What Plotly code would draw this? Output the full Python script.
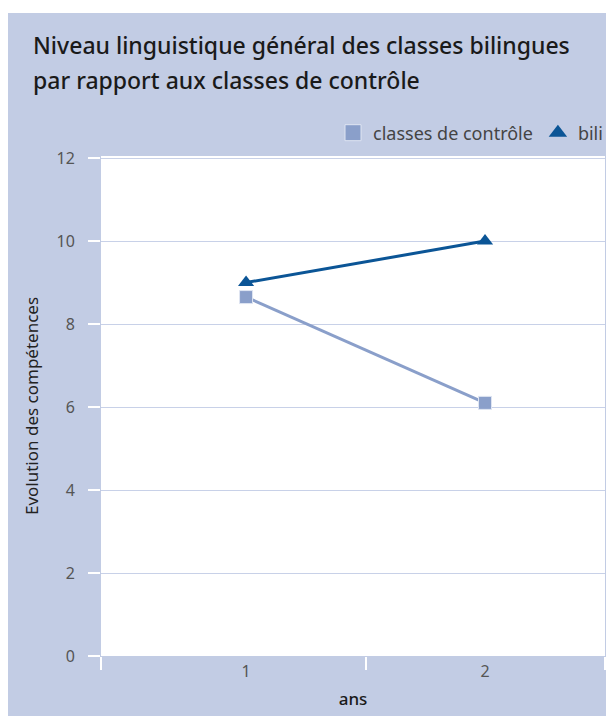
import plotly.graph_objects as go

years = [1, 2]
controle = [8.65, 6.1]
bili = [9.0, 10.0]
y_ticks = [0, 2, 4, 6, 8, 10, 12]
x_tick_labels = ["1", "2"]
title_lines = ["Niveau linguistique général des classes bilingues",
               "par rapport aux classes de contrôle"]

BG = "#c2cce4"
C_CTRL = "#8a9fca"
C_BILI = "#0b5596"
FONT = "Noto Sans"

# page has an 8px body margin; work in page pixels and convert
OFF = 8
W, H = 614, 716
L, R, T, B = 93, 17, 148, 68
pw, ph = W - L - R, H - T - B


def px_x(p):
    return (p - OFF - L) / pw


def px_y(p):
    return (H - B - (p - OFF)) / ph


fig = go.Figure()
fig.add_trace(go.Scatter(
    x=years, y=controle, name="classes de contrôle", mode="lines+markers",
    line=dict(color=C_CTRL, width=3), showlegend=False,
    marker=dict(symbol="square", size=13, color=C_CTRL, line=dict(color="#dfe5f2", width=1)),
))
fig.add_trace(go.Scatter(
    x=years, y=bili, name="bili", mode="lines+markers",
    line=dict(color=C_BILI, width=3), showlegend=False,
    marker=dict(symbol="triangle-up", size=14, color=C_BILI),
))
# legend entries (marker only)
fig.add_trace(go.Scatter(
    x=[None], y=[None], name="classes de contrôle", mode="markers",
    marker=dict(symbol="square", size=16, color=C_CTRL, line=dict(color="#dfe5f2", width=1)),
))
fig.add_trace(go.Scatter(
    x=[None], y=[None], name="bili", mode="markers",
    marker=dict(symbol="triangle-up", size=17, color=C_BILI),
))

shapes = [
    dict(type="rect", xref="paper", yref="paper", x0=px_x(0), x1=px_x(700), y0=px_y(13), y1=px_y(0),
         fillcolor="white", line=dict(width=0), layer="below"),
]

annotations = [
    dict(text=title_lines[0], xref="paper", yref="paper", x=px_x(31), y=px_y(45),
         xanchor="left", yanchor="middle", showarrow=False,
         font=dict(family=FONT, size=23, color="#1a1a1a", weight=500)),
    dict(text=title_lines[1], xref="paper", yref="paper", x=px_x(31), y=px_y(80),
         xanchor="left", yanchor="middle", showarrow=False,
         font=dict(family=FONT, size=23, color="#1a1a1a", weight=500)),
]

x_lo, x_hi = 0.393, 2.502

fig.update_layout(
    width=W, height=H,
    margin=dict(l=L, r=R, t=T, b=B),
    paper_bgcolor=BG, plot_bgcolor="white",
    shapes=shapes, annotations=annotations,
    font=dict(family=FONT, color="#444"),
    showlegend=True,
    legend=dict(
        orientation="h", x=px_x(608), xanchor="right", y=px_y(133), yanchor="middle",
        font=dict(family=FONT, size=18, color="#444"),
        bgcolor="rgba(0,0,0,0)", itemwidth=30, tracegroupgap=0,
    ),
    xaxis=dict(
        range=[x_lo, x_hi], tickvals=years, ticktext=x_tick_labels,
        showgrid=False, zeroline=False, showline=False,
        ticks="", tickfont=dict(size=16, color="#555"), ticklabelstandoff=4,
        minor=dict(tickvals=[x_lo, 1.5, x_hi], ticks="outside", ticklen=13,
                   tickcolor="white", tickwidth=1.5, showgrid=False),
        title=dict(text="ans", font=dict(size=17, color="#1a1a1a", weight=500), standoff=12),
    ),
    yaxis=dict(
        range=[0, 12.05], tickvals=y_ticks,
        showgrid=True, gridcolor="#c8d1e8", gridwidth=1, zeroline=False, showline=False,
        ticks="outside", ticklen=12, tickcolor="white", tickwidth=1.5,
        tickfont=dict(size=16, color="#555"), ticklabelstandoff=10,
        title=dict(text="Evolution des compétences", font=dict(size=17, color="#222"), standoff=13),
    ),
)

fig.write_html("out.html")
